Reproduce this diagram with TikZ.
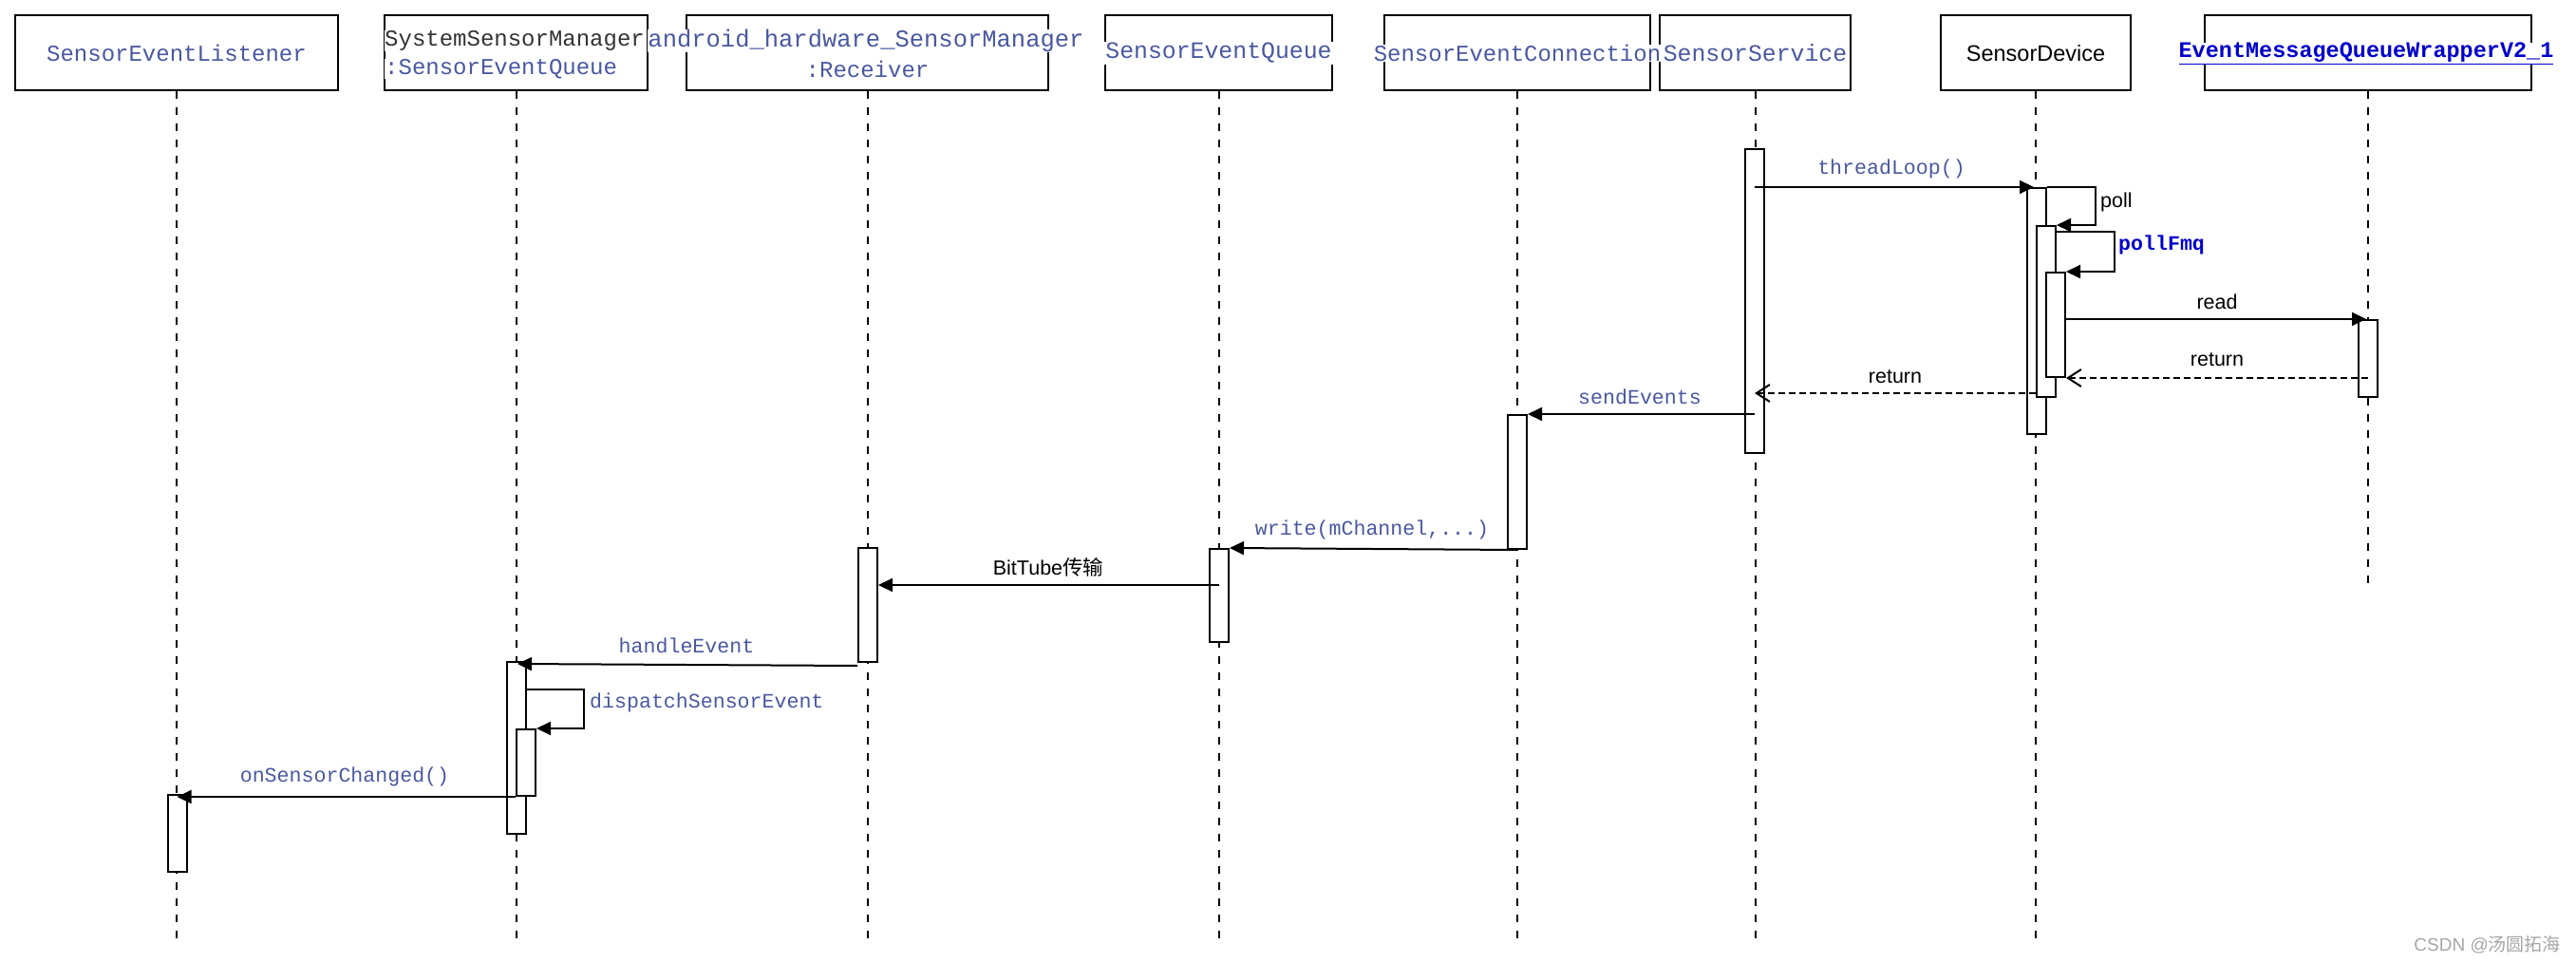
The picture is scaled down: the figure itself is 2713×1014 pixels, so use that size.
\documentclass[tikz,border=0pt]{standalone}
\usepackage{fontspec}
\usetikzlibrary{arrows.meta}
\newfontfamily\monof{Liberation Mono}
\newfontfamily\sansf{Liberation Sans}
\newfontfamily\cjkf{Noto Sans CJK SC}
\definecolor{lbl}{HTML}{4A58A0}
\definecolor{dk}{HTML}{333333}
\definecolor{lnk}{HTML}{0000CC}
\tikzset{
  hbox/.style={draw, line width=2pt, fill=white, inner sep=0pt, minimum height=79pt},
  htext/.style={fill=white, inner sep=1pt, font=\monof\fontsize{24}{28}\selectfont, text=lbl},
  life/.style={line width=2pt, dash pattern=on 8pt off 9pt},
  actbox/.style={draw, line width=2pt, fill=white, minimum width=20pt, inner sep=0pt, anchor=north},
  msg/.style={line width=2pt, -{Triangle[length=15pt,width=14pt]}},
  ret/.style={line width=2pt, dash pattern=on 7pt off 4pt, -{Straight Barb[length=14pt,width=18pt]}},
  mlbl/.style={font=\monof\fontsize{21.6}{24}\selectfont, text=lbl, inner sep=0pt},
  slbl/.style={font=\sansf\fontsize{21.5}{24}\selectfont, inner sep=0pt},
}
\begin{document}
\begin{tikzpicture}[x=1pt,y=-1pt]
\useasboundingbox[fill=white] (0,0) rectangle (2713,1014);

% header boxes
\node[hbox, minimum width=340pt] (h1) at (186,55.5) {};
\node[hbox, minimum width=277pt] (h2) at (543.5,55.5) {};
\node[hbox, minimum width=381pt] (h3) at (913.5,55.5) {};
\node[hbox, minimum width=239pt] (h4) at (1283.5,55.5) {};
\node[hbox, minimum width=280pt] (h5) at (1598,55.5) {};
\node[hbox, minimum width=201pt] (h6) at (1848.5,55.5) {};
\node[hbox, minimum width=200pt] (h7) at (2144,55.5) {};
\node[hbox, minimum width=344pt] (h8) at (2494,55.5) {};

% lifelines
\draw[life] (h1.south) -- ++(0,895);
\draw[life] (h2.south) -- ++(0,895);
\draw[life] (h3.south) -- ++(0,895);
\draw[life] (h4.south) -- ++(0,895);
\draw[life] (h5.south) -- ++(0,895);
\draw[life] (h6.south) -- ++(0,895);
\draw[life] (h7.south) -- ++(0,895);
\draw[life] (h8.south) -- ++(0,523);

% header texts
\node[htext] (t1) at (186,56) {SensorEventListener};
\node[htext, text=dk, anchor=west, inner sep=0pt] (t2a) at (405,43) {SystemSensorManager};
\node[htext, anchor=west, inner sep=0pt] (t2b) at (405,72.7) {:SensorEventQueue};
\node[htext, font=\monof\fontsize{25.5}{28}\selectfont, inner sep=0pt] (t3a) at (912,43) {android\_hardware\_SensorManager};
\node[htext, fill=none] (t3b) at (913.5,72.7) {:Receiver};
\node[htext, font=\monof\fontsize{24.8}{28}\selectfont] (t4) at (1283.5,56) {SensorEventQueue};
\node[htext, inner sep=0pt] (t5) at (1598,56) {SensorEventConnection};
\node[htext, inner sep=0pt, font=\monof\fontsize{24.8}{28}\selectfont] (t6) at (1848.5,56) {SensorService};
\node[htext, text=black, font=\sansf\fontsize{23.5}{28}\selectfont] (t7) at (2144,56) {SensorDevice};
\node[htext, text=lnk, font=\monof\bfseries\fontsize{23.5}{28}\selectfont, inner sep=0pt] (t8) at (2492,56) {\underline{EventMessageQueueWrapperV2\_1}};

% activations
\node[actbox, minimum height=320pt] (a6) at (1848,156) {};
\node[actbox, minimum height=259pt] (a7a) at (2145,197) {};
\node[actbox, minimum height=180pt] (a7b) at (2155,237) {};
\node[actbox, minimum height=110pt] (a7c) at (2165,286) {};
\node[actbox, minimum height=81pt] (a8) at (2494,336) {};
\node[actbox, minimum height=141pt] (a5) at (1598,436) {};
\node[actbox, minimum height=98pt] (a4) at (1284,577) {};
\node[actbox, minimum height=120pt] (a3) at (914,576) {};
\node[actbox, minimum height=181pt] (a2a) at (544,696) {};
\node[actbox, minimum height=70pt] (a2b) at (554,767) {};
\node[actbox, minimum height=81pt] (a1) at (186.5,836) {};

% messages
\draw[msg] (a6.center |- a7a.north) -- ([xshift=-3pt]a7a.north);
\draw[msg] (a7a.north east) -- ++(51,0) |- (a7b.north east);
\draw[msg] ([yshift=-7pt]a7b.north east) -- ++(61,0) |- (a7c.north east);
\draw[msg] (a7c.east |- a8.north) -- ([xshift=-2pt]a8.north);
\draw[ret] (a8.center |- a7c.south) -- (a7c.south east);
\coordinate (r2s) at (2144,414);
\draw[ret] (r2s) -- (a6.center |- r2s);
\draw[msg] (a6.center |- a5.north) -- (a5.north east);
\draw[msg] (a5.south) -- (a4.north east);
\coordinate (bts) at (1284,616);
\draw[msg] (bts) -- (a3.east |- bts);
\draw[msg] ([yshift=-3pt]a3.south west) -- ([xshift=1pt,yshift=-3pt]a2a.north);
\draw[msg] ([yshift=-30pt]a2a.north east) -- ++(60,0) |- (a2b.north east);
\draw[msg] (a2b.south west) -- (a2b.south west -| a1.center);

% labels
\node[mlbl] (l1) at (1992,178) {threadLoop()};
\node[slbl, anchor=west] (l2) at (2212,213) {poll};
\node[mlbl, anchor=west, text=lnk, font=\monof\bfseries\fontsize{21.6}{24}\selectfont] (l3) at (2231,258) {pollFmq};
\node[slbl] (l4) at (2335,318) {read};
\node[slbl] (l5) at (2335,379) {return};
\node[slbl] (l6) at (1996,397) {return};
\node[mlbl] (l7) at (1727,418) {sendEvents};
\node[mlbl] (l8) at (1445,558) {write(mChannel,...)};
\node[slbl] (l9) at (1104,597) {BitTube{\cjkf 传输}};
\node[mlbl] (l10) at (723,680) {handleEvent};
\node[mlbl, anchor=west] (l11) at (621,740) {dispatchSensorEvent};
\node[mlbl] (l12) at (363,818) {onSensorChanged()};

% watermark
\node[anchor=east, inner sep=0pt, text=black!35, font=\sansf\fontsize{19}{20}\selectfont] (wm) at (2697,995) {CSDN @{\cjkf 汤圆拓海}};
\end{tikzpicture}
\end{document}
